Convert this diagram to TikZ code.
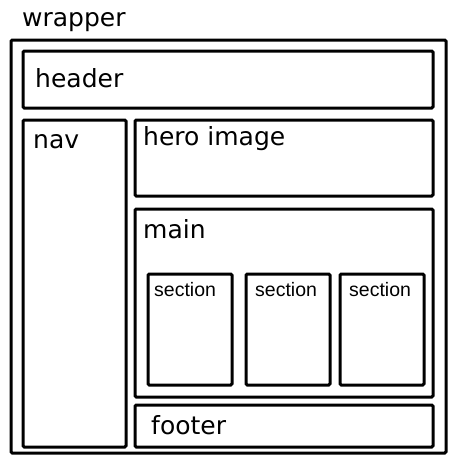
\documentclass[tikz,border=0pt]{standalone}
\usepackage{fontspec}
\setmainfont{DejaVu Sans}
\newfontfamily\secfont{Liberation Sans}
\begin{document}
\begin{tikzpicture}[x=1pt,y=-1pt,
  box/.style={draw=black,line width=3pt,rounded corners=1.2pt},
  big/.style={anchor=base west,inner sep=0pt,font=\fontsize{25}{28}\selectfont},
  small/.style={anchor=base west,inner sep=0pt,font=\secfont\fontsize{19.5}{22}\selectfont}]
\useasboundingbox (0,0) rectangle (459,466);
\draw[box] (11,40) rectangle (446,453) coordinate (wrapperbox);
\node[big] (wrapper) at (22,26) {wrapper};
\draw[box] (23,51) rectangle (433,108);
\node[big] (header) at (35,87) {header};
\draw[box] (23,120) rectangle (126,447);
\node[big] (nav) at (33,148) {nav};
\draw[box] (135,120) rectangle (433,196);
\node[big] (hero) at (143,145) {hero image};
\draw[box] (135,209) rectangle (433,397);
\node[big] (main) at (143,238) {main};
\draw[box] (148,274) rectangle (232,385);
\node[small] (s1) at (154,296) {section};
\draw[box] (246,274) rectangle (330,385);
\node[small] (s2) at (255,296) {section};
\draw[box] (340,274) rectangle (424,385);
\node[small] (s3) at (349,296) {section};
\draw[box] (135,405) rectangle (433,447);
\node[big] (footer) at (151,434) {footer};
\end{tikzpicture}
\end{document}
